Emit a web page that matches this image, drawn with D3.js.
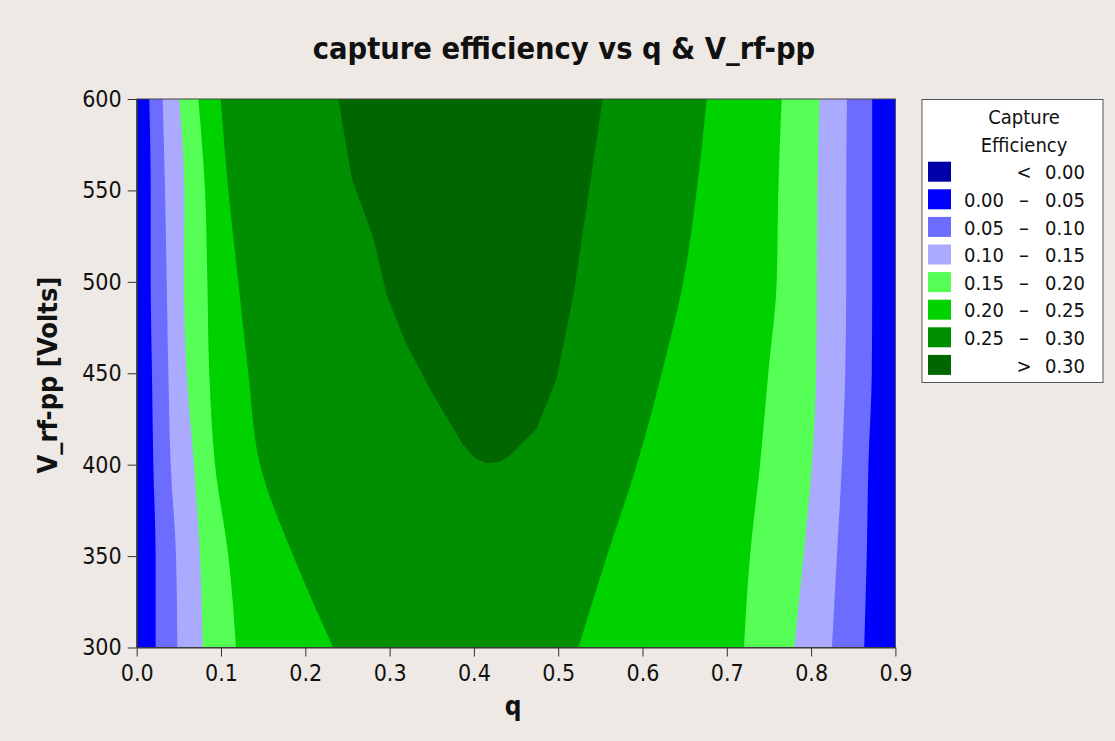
<!DOCTYPE html>
<html>
<head>
<meta charset="utf-8">
<script src="https://cdn.jsdelivr.net/npm/d3@7"></script>
<style>
  body { margin: 0; background: #eee9e4; }
  text { font-family: "DejaVu Sans Condensed", "DejaVu Sans", sans-serif; font-stretch: condensed; fill: #111; }
</style>
</head>
<body>
<div id="chart"></div>
<script>
// contour boundaries (q value) at each voltage, left and right side of each level
const vGrid = [300, 350, 400, 450, 500, 550, 600];
const levels = [0.05, 0.10, 0.15, 0.20, 0.25];
const leftQ = [
  [0.0224, 0.0224, 0.0197, 0.0181, 0.0166, 0.0166, 0.0149],
  [0.0482, 0.0466, 0.0403, 0.0375, 0.0356, 0.0336, 0.0308],
  [0.0783, 0.0751, 0.0680, 0.0593, 0.0561, 0.0565, 0.0505],
  [0.1178, 0.1087, 0.0929, 0.0861, 0.0838, 0.0810, 0.0731],
  [0.2332, 0.1858, 0.1463, 0.1324, 0.1205, 0.1087, 0.0996]
];
const rightQ = [
  [0.8630, 0.8660, 0.8680, 0.8720, 0.8725, 0.8725, 0.8725],
  [0.8247, 0.8306, 0.8365, 0.8405, 0.8417, 0.8417, 0.8425],
  [0.7800, 0.7910, 0.8009, 0.8060, 0.8069, 0.8075, 0.8099],
  [0.7204, 0.7275, 0.7394, 0.7492, 0.7592, 0.7611, 0.7651],
  [0.5240, 0.5578, 0.5933, 0.6228, 0.6484, 0.6643, 0.6762]
];
// the > 0.30 region, closed shape
const darkLeftQ = [0.2392, 0.2551, 0.2808, 0.2966, 0.3204, 0.3520, 0.3874, 0.4020, 0.4152];
const darkLeftV = [600, 556.6, 523.8, 492.7, 465.3, 438.0, 410.6, 403.5, 400.6];
const darkRightQ = [0.4300, 0.4428, 0.4744, 0.4982, 0.5180, 0.5298, 0.5417, 0.5528];
const darkRightV = [401.5, 405.0, 419.8, 447.1, 492.7, 529.2, 565.7, 600];

const xTicks = [0, 0.1, 0.2, 0.3, 0.4, 0.5, 0.6, 0.7, 0.8, 0.9];
const yTicks = [300, 350, 400, 450, 500, 550, 600];

const legendColors = ['#0000a8', '#0000ff', '#6c6cff', '#aaaaff', '#55ff55', '#00d200', '#008f00', '#006600'];
const legendLow = ['', '0.00', '0.05', '0.10', '0.15', '0.20', '0.25', ''];
const legendSign = ['<', '–', '–', '–', '–', '–', '–', '>'];
const legendHigh = ['0.00', '0.05', '0.10', '0.15', '0.20', '0.25', '0.30', '0.30'];

const W = 1115, H = 741;
const svg = d3.select('#chart').append('svg')
  .attr('width', W)
  .attr('height', H);

svg.append('rect').attr('width', W).attr('height', H).attr('fill', '#eee9e4');

const x = d3.scaleLinear().domain([0, 0.9]).range([136.7, 895.4]);
const y = d3.scaleLinear().domain([300, 600]).range([647.5, 99]);

svg.append('clipPath').attr('id', 'plotclip')
  .append('rect')
  .attr('x', x(0)).attr('y', y(600))
  .attr('width', x(0.9) - x(0)).attr('height', y(300) - y(600));

const plot = svg.append('g').attr('clip-path', 'url(#plotclip)');

// base band 0.00 - 0.05
plot.append('rect')
  .attr('x', x(0)).attr('y', y(600))
  .attr('width', x(0.9) - x(0)).attr('height', y(300) - y(600))
  .attr('fill', legendColors[1]);

const area = d3.area()
  .y(d => y(d.v))
  .x0(d => x(d.l))
  .x1(d => x(d.r))
  .curve(d3.curveMonotoneY);

levels.forEach((lev, i) => {
  const pts = vGrid.map((v, j) => ({ v: v, l: leftQ[i][j], r: rightQ[i][j] }));
  plot.append('path')
    .attr('d', area(pts))
    .attr('fill', legendColors[i + 2]);
});

const darkPts = darkLeftQ.map((q, i) => [q, darkLeftV[i]])
  .concat(darkRightQ.map((q, i) => [q, darkRightV[i]]));
plot.append('path')
  .attr('d', d3.line().x(d => x(d[0])).y(d => y(d[1])).curve(d3.curveLinearClosed)(darkPts))
  .attr('fill', legendColors[7]);

// frame
svg.append('rect')
  .attr('x', x(0)).attr('y', y(600))
  .attr('width', x(0.9) - x(0)).attr('height', y(300) - y(600))
  .attr('fill', 'none')
  .attr('stroke', '#444')
  .attr('stroke-width', 1);

// axes
const xAxis = svg.append('g')
  .attr('transform', `translate(0,${y(300)})`)
  .call(d3.axisBottom(x).tickValues(xTicks).tickFormat(d3.format('.1f')).tickSize(9).tickSizeOuter(0).tickPadding(8));
const yAxis = svg.append('g')
  .attr('transform', `translate(${x(0)},0)`)
  .call(d3.axisLeft(y).tickValues(yTicks).tickSize(9).tickSizeOuter(0).tickPadding(6));

[xAxis, yAxis].forEach(a => {
  a.selectAll('path').attr('stroke', '#333');
  a.selectAll('line').attr('stroke', '#333');
  a.selectAll('text')
    .style('font-family', '"DejaVu Sans Condensed", "DejaVu Sans", sans-serif')
    .style('font-size', '23px')
    .attr('fill', '#111');
});

// titles
svg.append('text')
  .attr('x', 564).attr('y', 59)
  .attr('text-anchor', 'middle')
  .style('font-size', '30.5px')
  .style('font-weight', 'bold')
  .text('capture efficiency vs q & V_rf-pp');

svg.append('text')
  .attr('x', 513).attr('y', 715)
  .attr('text-anchor', 'middle')
  .style('font-size', '26px')
  .style('font-weight', 'bold')
  .text('q');

svg.append('text')
  .attr('transform', 'translate(57,375) rotate(-90)')
  .attr('text-anchor', 'middle')
  .style('font-size', '27px')
  .style('font-weight', 'bold')
  .text('V_rf-pp [Volts]');

// legend
const lg = svg.append('g');
lg.append('rect')
  .attr('x', 922).attr('y', 99.5)
  .attr('width', 181).attr('height', 283)
  .attr('fill', '#fff')
  .attr('stroke', '#555')
  .attr('stroke-width', 1);

lg.append('text').attr('x', 1024).attr('y', 124).attr('text-anchor', 'middle')
  .style('font-size', '20px').text('Capture');
lg.append('text').attr('x', 1024).attr('y', 151.5).attr('text-anchor', 'middle')
  .style('font-size', '20px').text('Efficiency');

const rows = lg.selectAll('g.row')
  .data(legendColors)
  .enter()
  .append('g')
  .attr('class', 'row')
  .attr('transform', (d, i) => `translate(0,${161.7 + i * 27.6})`);

rows.append('rect')
  .attr('x', 928).attr('y', 0)
  .attr('width', 23).attr('height', 20)
  .attr('fill', d => d);

rows.append('text')
  .attr('x', 1004).attr('y', 17.6)
  .attr('text-anchor', 'end')
  .style('font-size', '20px')
  .text((d, i) => legendLow[i]);

rows.append('text')
  .attr('x', 1024).attr('y', 17.6)
  .attr('text-anchor', 'middle')
  .style('font-size', (d, i) => i === 0 || i === 7 ? '20px' : '22px')
  .text((d, i) => legendSign[i]);

rows.append('text')
  .attr('x', 1085).attr('y', 17.6)
  .attr('text-anchor', 'end')
  .style('font-size', '20px')
  .text((d, i) => legendHigh[i]);
</script>
</body>
</html>
